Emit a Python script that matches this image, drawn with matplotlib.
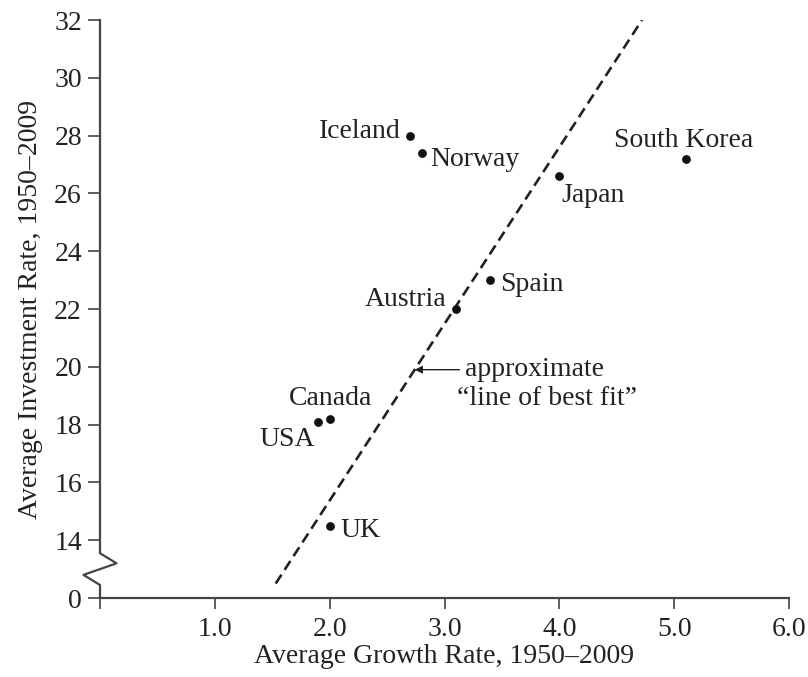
import matplotlib.pyplot as plt
import matplotlib.transforms as mtransforms

plt.rcParams['font.family'] = ['Liberation Serif', 'DejaVu Serif']

# data (growth %, investment %)
countries = ['Iceland', 'Norway', 'Japan', 'South Korea', 'Spain', 'Austria',
             'Canada', 'USA', 'UK']
growth = [2.7, 2.8, 4.0, 5.1, 3.4, 3.1, 2.0, 1.9, 2.0]
invest = [28.0, 27.4, 26.6, 27.2, 23.0, 22.0, 18.2, 18.1, 14.5]

# approximate line of best fit, drawn on the broken axis scale
fit_x = [1.53, 4.72]
fit_y = [12.5, 32.0]

# y axis is broken: the "0" tick sits where 12 would be
y_ticks = [12, 14, 16, 18, 20, 22, 24, 26, 28, 30, 32]
y_labels = ['0', '14', '16', '18', '20', '22', '24', '26', '28', '30', '32']
x_ticks = [0, 1, 2, 3, 4, 5, 6]
x_labels = ['', '1.0', '2.0', '3.0', '4.0', '5.0', '6.0']

# label offsets in points (dx, dy, ha)
offsets = {
    'Iceland': (-7, 3, 'right'),
    'Norway': (6.5, -5, 'left'),
    'Japan': (1.5, -14, 'left'),
    'South Korea': (-1.5, 13, 'center'),
    'Spain': (7, -3.5, 'left'),
    'Austria': (-7, 7, 'right'),
    'Canada': (0.7, 14.4, 'center'),
    'USA': (-2, -13, 'right'),
    'UK': (8, -3.6, 'left'),
}

ink = '#222222'
fs = 20

fig = plt.figure(figsize=(8.08, 6.77), dpi=100)
ax = fig.add_axes([100 / 808, 1 - 598 / 677, 689 / 808, 578 / 677])

ax.plot(fit_x, fit_y, color=ink, lw=1.9, linestyle=(0, (4.0, 2.2)))
ax.scatter(growth, invest, s=28, color='#111111', zorder=3)

for name, gx, iy in zip(countries, growth, invest):
    dx, dy, ha = offsets[name]
    ax.annotate(name, (gx, iy), xytext=(dx, dy), textcoords='offset points',
                ha=ha, va='center', fontsize=fs, color=ink)

ax.annotate('', xy=(2.74, 19.9), xytext=(3.13, 19.9),
            arrowprops=dict(arrowstyle='-|>', color=ink, lw=1.0,
                            mutation_scale=11, shrinkA=0, shrinkB=0))
ax.text(3.175, 19.9, 'approximate', ha='left', va='center', fontsize=fs,
        color=ink)
ax.text(3.11, 18.92, '\u201cline of best fit\u201d', ha='left', va='center',
        fontsize=fs, color=ink)

ax.set_xlim(0, 6)
ax.set_ylim(12, 32)
ax.set_xticks(x_ticks)
ax.set_xticklabels(x_labels)
ax.set_yticks(y_ticks)
ax.set_yticklabels(y_labels)
ax.tick_params(direction='out', length=9, width=1.2, colors='#444444',
               labelcolor=ink, labelsize=fs, pad=4)
ax.tick_params(axis='x', length=8, pad=6)

for s in ['top', 'right', 'left']:
    ax.spines[s].set_visible(False)
ax.spines['bottom'].set_color('#444444')
ax.spines['bottom'].set_linewidth(1.6)

# left spine with zigzag break between 0 and 14
tr = mtransforms.blended_transform_factory(ax.transAxes, ax.transData)
ax.plot([0, 0, 0.024, -0.024, 0, 0], [32, 13.55, 13.2, 12.8, 12.45, 12],
        transform=tr, color='#444444', lw=1.6, clip_on=False)

ax.set_xlabel('Average Growth Rate, 1950\u20132009', fontsize=fs, color=ink,
              labelpad=1)
ax.set_ylabel('Average Investment Rate, 1950\u20132009', fontsize=fs,
              color=ink, labelpad=8)

fig.savefig('out.png', dpi=100)
